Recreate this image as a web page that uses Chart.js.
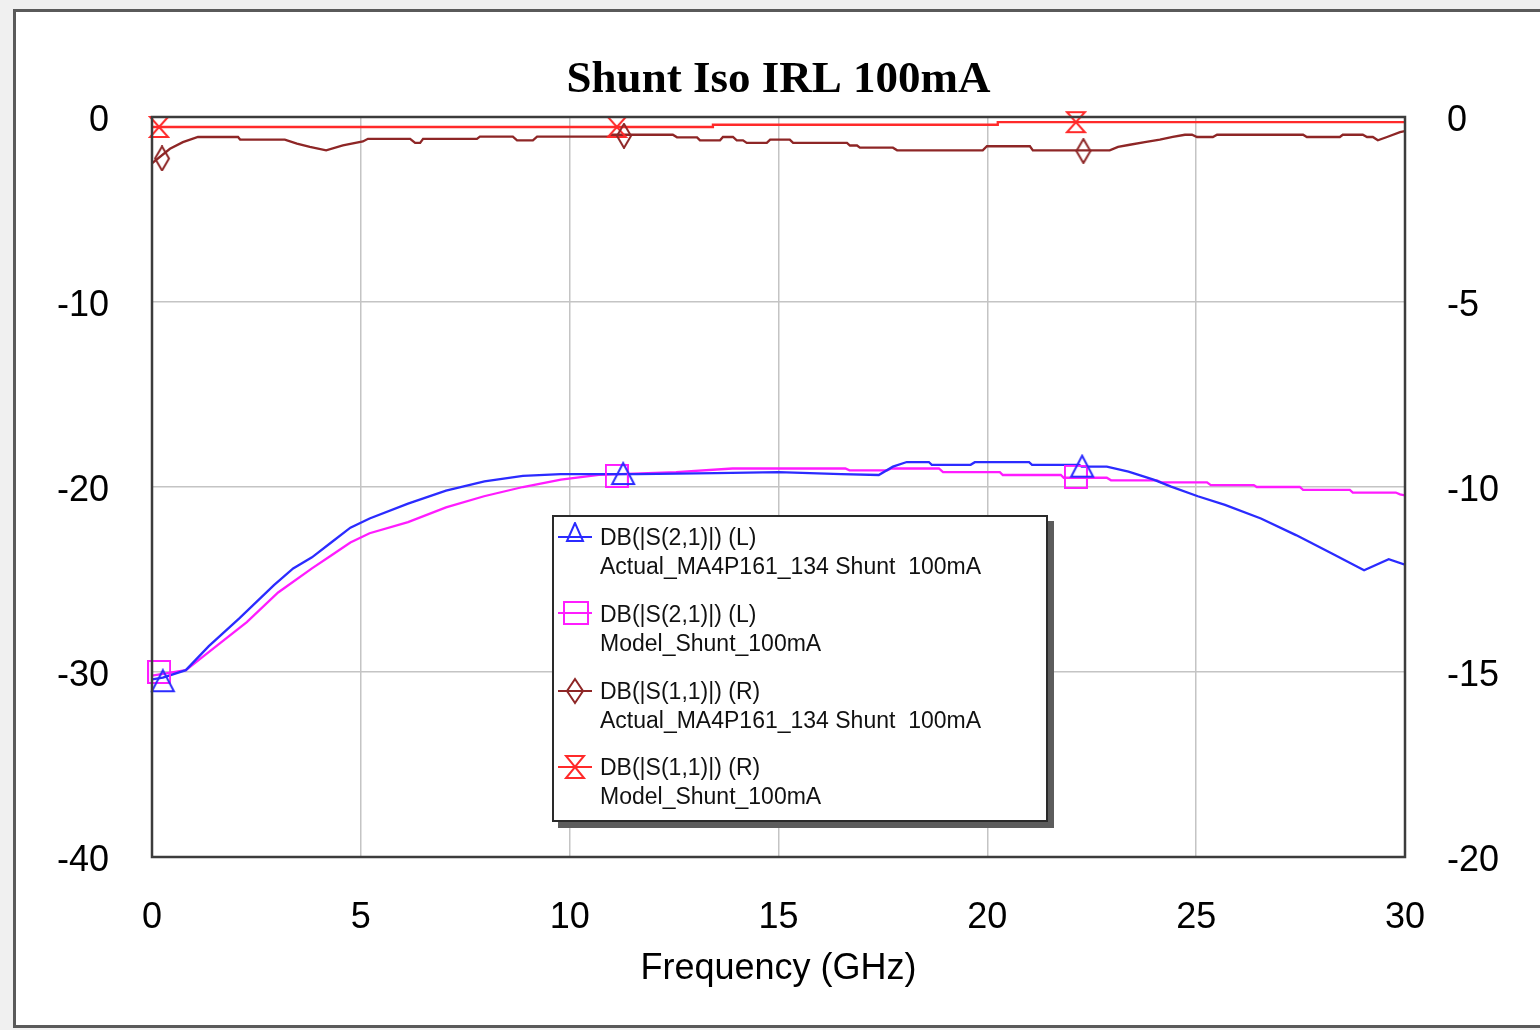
<!DOCTYPE html>
<html><head><meta charset="utf-8">
<script src="https://cdn.jsdelivr.net/npm/chart.js@4.4.0/dist/chart.umd.min.js"></script>
<style>
html,body{margin:0;padding:0;width:1540px;height:1030px;overflow:hidden;background:#f0f0f0;}
#frame{position:absolute;left:13px;top:9px;width:1600px;height:1013px;border:3px solid #5a5a5a;background:#fff;}
#wrap{position:absolute;left:0;top:0;width:1540px;height:1030px;}
#legend{position:absolute;left:552px;top:515px;width:492px;height:303px;border:2px solid #2a2a2a;background:#fff;box-shadow:6px 6px 0 #5c5c5c;font-family:'Liberation Sans',Arial,sans-serif;font-size:23px;color:#111;}
.entry{position:absolute;left:0;width:100%;}
.entry svg{position:absolute;left:4px;}
.entry .t{position:absolute;left:46px;white-space:pre;line-height:29px;}
</style></head>
<body>
<div id="frame"></div>
<div id="wrap"><canvas id="c" width="1540" height="1030"></canvas></div>
<div id="legend"></div>
<script>
// ---- data ----
const xTickValues=[0,5,10,15,20,25,30];
const leftTickValues=[0,-10,-20,-30,-40];
const rightTickValues=[0,-5,-10,-15,-20];

const freqActS21=[0,0.26,0.81,1.36,2.09,2.92,3.38,3.83,4.29,4.75,5.21,6.13,7.04,7.96,8.88,9.79,11.62,13.5,15.0,16.5,17.4,17.74,18.07,18.6,18.67,19.6,19.7,21.0,21.07,22.2,22.26,22.86,23.38,23.98,24.4,25.04,25.69,26.55,27.39,28.25,29.02,29.61,30];
const valActS21=[-30.4,-30.3,-29.9,-28.6,-27.1,-25.3,-24.4,-23.8,-23.0,-22.2,-21.7,-20.9,-20.2,-19.7,-19.4,-19.3,-19.3,-19.25,-19.2,-19.3,-19.35,-18.9,-18.65,-18.65,-18.8,-18.8,-18.66,-18.66,-18.8,-18.8,-18.9,-18.9,-19.17,-19.6,-19.98,-20.5,-20.97,-21.7,-22.6,-23.6,-24.5,-23.9,-24.2];

const freqModS21=[0,0.81,1.54,2.27,3.02,3.83,4.29,4.75,5.21,6.13,7.04,7.95,8.88,9.79,10.7,12.55,13.9,16.6,16.7,17.6,17.7,18.84,18.94,20.3,20.37,21.76,21.83,22.86,22.96,24.06,24.16,25.26,25.35,26.38,26.45,27.48,27.56,28.68,28.75,29.78,29.88,30];
const valModS21=[-30.2,-29.9,-28.6,-27.3,-25.7,-24.4,-23.7,-23.0,-22.5,-21.9,-21.1,-20.5,-20.0,-19.6,-19.35,-19.2,-19.0,-19.0,-19.1,-19.1,-19.0,-19.0,-19.2,-19.2,-19.35,-19.35,-19.5,-19.5,-19.64,-19.64,-19.75,-19.75,-19.9,-19.9,-20.0,-20.0,-20.16,-20.16,-20.3,-20.3,-20.4,-20.45];

const freqActS11=[0,0.43,0.74,1.10,2.06,2.11,3.18,3.47,3.78,4.17,4.57,5.05,5.17,6.18,6.30,6.42,6.49,7.78,7.85,8.64,8.74,9.12,9.22,10.96,11.01,12.47,12.57,13.05,13.12,13.60,13.67,13.91,14.00,14.15,14.24,14.72,14.80,15.27,15.35,16.64,16.71,16.88,16.95,17.74,17.84,19.89,19.99,21.02,21.09,22.93,23.13,23.41,23.77,24.13,24.44,24.73,24.90,25.02,25.40,25.50,27.56,27.65,28.44,28.51,28.99,29.09,29.23,29.35,29.57,29.88,30.0];
const valActS11=[-1.25,-0.86,-0.68,-0.54,-0.54,-0.61,-0.61,-0.72,-0.81,-0.90,-0.77,-0.66,-0.59,-0.59,-0.70,-0.70,-0.59,-0.59,-0.53,-0.53,-0.63,-0.63,-0.53,-0.53,-0.48,-0.48,-0.55,-0.55,-0.63,-0.63,-0.54,-0.54,-0.63,-0.63,-0.70,-0.70,-0.61,-0.61,-0.70,-0.70,-0.77,-0.77,-0.83,-0.83,-0.90,-0.90,-0.79,-0.79,-0.90,-0.90,-0.81,-0.75,-0.68,-0.61,-0.54,-0.48,-0.48,-0.54,-0.54,-0.48,-0.48,-0.54,-0.54,-0.48,-0.48,-0.54,-0.54,-0.63,-0.54,-0.41,-0.38];

const freqModS11=[0,13.43,13.43,20.25,20.25,30];
const valModS11=[-0.27,-0.27,-0.21,-0.21,-0.14,-0.14];

const mkFreqActS21=[0.26,11.28,22.27], mkValActS21=[-30.5,-19.3,-18.9];
const mkFreqModS21=[0.17,11.13,22.12], mkValModS21=[-30.0,-19.4,-19.45];
const mkFreqActS11=[0.24,11.3,22.3],  mkValActS11=[-1.12,-0.51,-0.92];
const mkFreqModS11=[0.17,11.13,22.12], mkValModS11=[-0.27,-0.27,-0.14];

const seriesNames=['DB(|S(2,1)|) (L)','DB(|S(2,1)|) (L)','DB(|S(1,1)|) (R)','DB(|S(1,1)|) (R)'];
const seriesSources=['Actual_MA4P161_134 Shunt  100mA','Model_Shunt_100mA','Actual_MA4P161_134 Shunt  100mA','Model_Shunt_100mA'];
const colors=['#2b2bff','#ff1cff','#8e2626','#ff2a2a'];

// ---- marker shapes ----
function mk(w,h,fn,col){const c=document.createElement('canvas');c.width=w;c.height=h;const g=c.getContext('2d');g.strokeStyle=col;g.lineWidth=2;g.beginPath();fn(g);g.stroke();return c;}
const triImg=mk(26,26,g=>{g.moveTo(13,2);g.lineTo(2,23);g.lineTo(24,23);g.closePath();},colors[0]);
const sqImg=mk(24,24,g=>{g.rect(1,1,22,22);},colors[1]);
const diaImg=mk(18,26,g=>{g.moveTo(9,1);g.lineTo(16,13);g.lineTo(9,25);g.lineTo(2,13);g.closePath();},colors[2]);
const hgImg=mk(22,24,g=>{g.moveTo(2,2);g.lineTo(20,2);g.lineTo(11,12);g.closePath();g.moveTo(11,12);g.lineTo(20,22);g.lineTo(2,22);g.closePath();},colors[3]);

const pts=(f,v)=>f.map((x,i)=>({x:x,y:v[i]}));
function lineDs(f,v,col,axis){return {data:pts(f,v),borderColor:col,borderWidth:2.3,pointRadius:0,tension:0,fill:false,yAxisID:axis};}
function markDs(f,v,img,axis){return {data:pts(f,v),showLine:false,pointStyle:img,pointRadius:6,borderColor:'rgba(0,0,0,0)',backgroundColor:'rgba(0,0,0,0)',yAxisID:axis,clip:false};}

const framePlugin={id:'plotFrame',afterDatasetsDraw(chart){const {ctx,chartArea:a}=chart;ctx.save();ctx.strokeStyle='#3c3c3c';ctx.lineWidth=2.5;ctx.strokeRect(a.left,a.top,a.right-a.left,a.bottom-a.top);ctx.restore();}};

const tickFont={family:"'Liberation Sans', Arial, sans-serif",size:36};
const yTickFont={family:"'Liberation Sans', Arial, sans-serif",size:36,lineHeight:'8px'};
const yLabel=v=>['',String(v)]; // second line sits slightly below the tick, as in the reference
const gridCol='#c4c4c4';

new Chart(document.getElementById('c'),{
  type:'line',
  data:{datasets:[
    markDs(mkFreqActS21,mkValActS21,triImg,'yL'),
    markDs(mkFreqModS21,mkValModS21,sqImg,'yL'),
    markDs(mkFreqActS11,mkValActS11,diaImg,'yR'),
    markDs(mkFreqModS11,mkValModS11,hgImg,'yR'),
    lineDs(freqActS21,valActS21,colors[0],'yL'),
    lineDs(freqModS21,valModS21,colors[1],'yL'),
    lineDs(freqActS11,valActS11,colors[2],'yR'),
    lineDs(freqModS11,valModS11,colors[3],'yR')
  ]},
  options:{
    responsive:false,animation:false,devicePixelRatio:1,
    layout:{padding:0},
    plugins:{
      legend:{display:false},tooltip:{enabled:false},
      title:{display:true,text:'Shunt Iso IRL 100mA',fullSize:false,color:'#000',
        font:{family:"'Liberation Serif','Times New Roman',serif",size:45,weight:'bold'},
        padding:{top:53,bottom:10}}
    },
    scales:{
      x:{type:'linear',min:0,max:30,
        afterBuildTicks:s=>{s.ticks=xTickValues.map(v=>({value:v}));},
        afterFit:s=>{s.height=173;},
        grid:{color:gridCol,lineWidth:1.5,drawTicks:false},border:{display:false},
        ticks:{font:tickFont,color:'#000',padding:39,maxRotation:0},
        title:{display:true,text:'Frequency (GHz)',color:'#000',font:tickFont,padding:{top:0,bottom:39}}},
      yL:{type:'linear',position:'left',min:-40,max:0,
        afterBuildTicks:s=>{s.ticks=leftTickValues.map(v=>({value:v}));},
        afterFit:s=>{s.width=152;},
        grid:{color:gridCol,lineWidth:1.5,drawTicks:false},border:{display:false},
        ticks:{font:yTickFont,color:'#000',padding:43,callback:yLabel}},
      yR:{type:'linear',position:'right',min:-20,max:0,
        afterBuildTicks:s=>{s.ticks=rightTickValues.map(v=>({value:v}));},
        afterFit:s=>{s.width=135;},
        grid:{display:false,drawTicks:false},border:{display:false},
        ticks:{font:yTickFont,color:'#000',padding:42,callback:yLabel}}
    }
  },
  plugins:[framePlugin]
});

// ---- legend (HTML) ----
const icons=[
  '<line x1="0" y1="15" x2="34" y2="15" stroke="'+colors[0]+'" stroke-width="2"/><polygon points="17,1 9,19 25,19" fill="none" stroke="'+colors[0]+'" stroke-width="2"/>',
  '<line x1="0" y1="14" x2="34" y2="14" stroke="'+colors[1]+'" stroke-width="2"/><rect x="6" y="3" width="24" height="22" fill="none" stroke="'+colors[1]+'" stroke-width="2"/>',
  '<line x1="0" y1="15" x2="34" y2="15" stroke="'+colors[2]+'" stroke-width="2"/><polygon points="17,3 25,15 17,27 9,15" fill="none" stroke="'+colors[2]+'" stroke-width="2"/>',
  '<line x1="0" y1="15" x2="34" y2="15" stroke="'+colors[3]+'" stroke-width="2"/><polygon points="8,4 26,4 17,15" fill="none" stroke="'+colors[3]+'" stroke-width="2"/><polygon points="17,15 26,26 8,26" fill="none" stroke="'+colors[3]+'" stroke-width="2"/>'
];
const centers=[20,97,174,250];
const leg=document.getElementById('legend');
seriesNames.forEach((n,i)=>{
  const e=document.createElement('div');e.className='entry';e.style.top=(centers[i]-14.5)+'px';
  e.innerHTML='<svg width="36" height="30" style="top:-1px">'+icons[i]+'</svg><div class="t" style="top:0">'+n+'</div><div class="t" style="top:29px">'+seriesSources[i]+'</div>';
  leg.appendChild(e);
});
</script>
</body></html>
